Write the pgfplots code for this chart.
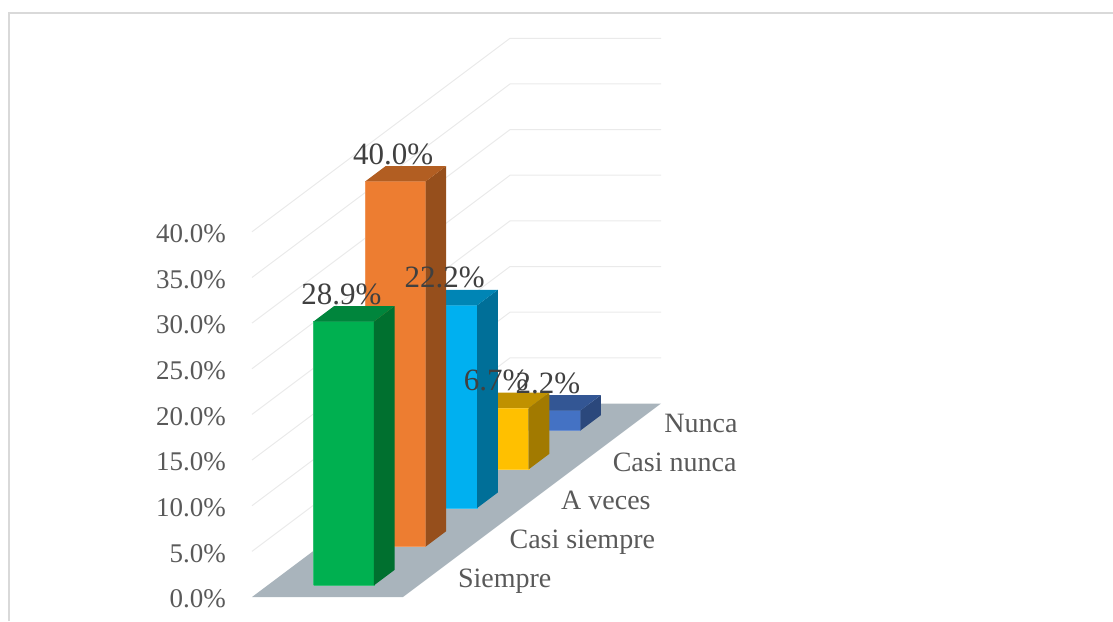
\documentclass[border=0pt]{standalone}
\usepackage{fontspec}
\setmainfont{Liberation Serif}
\usepackage{pgfplots}
\usepackage{pgfplotstable}
\pgfplotsset{compat=1.18}
\definecolor{gridc}{HTML}{EAEAEA}
\definecolor{floorc}{HTML}{A9B4BC}
\definecolor{framec}{HTML}{D9D9D9}
\definecolor{ticktxt}{HTML}{595959}
\definecolor{datatxt}{HTML}{404040}
\definecolor{greenF}{HTML}{00B050}\definecolor{greenS}{HTML}{00702F}\definecolor{greenT}{HTML}{00853C}
\definecolor{orangeF}{HTML}{ED7D31}\definecolor{orangeS}{HTML}{964F1C}\definecolor{orangeT}{HTML}{B25E22}
\definecolor{cyanF}{HTML}{00B0F0}\definecolor{cyanS}{HTML}{006F98}\definecolor{cyanT}{HTML}{0085B5}
\definecolor{yellowF}{HTML}{FFC000}\definecolor{yellowS}{HTML}{A27A00}\definecolor{yellowT}{HTML}{C09100}
\definecolor{blueF}{HTML}{4472C4}\definecolor{blueS}{HTML}{2B487C}\definecolor{blueT}{HTML}{335694}
% #1 value, #2 colour stem, #3 y front, #4 y back
\newcommand{\threedbar}[4]{%
  \addplot3[fill=#2F,draw=#2F!80!white,line width=0.4pt,no marks,forget plot] coordinates {(0.305,#3,0) (0.705,#3,0) (0.705,#3,#1) (0.305,#3,#1) (0.305,#3,0)};
  \addplot3[fill=#2S,draw=none,no marks,forget plot] coordinates {(0.705,#3,0) (0.705,#4,0) (0.705,#4,#1) (0.705,#3,#1) (0.705,#3,0)};
  \addplot3[fill=#2T,draw=none,no marks,forget plot] coordinates {(0.305,#3,#1) (0.705,#3,#1) (0.705,#4,#1) (0.305,#4,#1) (0.305,#3,#1)};
}
\newcommand{\gridl}[1]{\addplot3[gridc,line width=1pt,no marks,forget plot] coordinates {(0,0,#1) (0,5,#1) (1,5,#1)};}
\newcommand{\catlabel}[2]{\node[anchor=base west,inner sep=0pt,text=ticktxt,font=\fontsize{28}{30}\selectfont,xshift=29pt,yshift=-9.5pt] at (axis cs:1,#1,0) {#2};}
\begin{document}
\begin{tikzpicture}
\useasboundingbox (-252pt,-24pt) rectangle (861pt,597pt);
\draw[framec,line width=2pt] (-243pt,-24pt) -- (-243pt,584pt) -- (861pt,584pt);
\begin{axis}[
  at={(0pt,0pt)}, anchor=origin,
  x={(151pt,0pt)}, y={(51.6pt,38.7pt)}, z={(0pt,9.13pt)},
  xmin=0,xmax=1,ymin=0,ymax=5,zmin=0,zmax=40,
  clip=false,
  axis line style={draw=none},
  major tick style={draw=none},
  xtick=\empty, ytick=\empty,
  ztick={0,5,10,15,20,25,30,35,40},
  zticklabel pos=left,
  zticklabel={\pgfmathprintnumber[fixed,fixed zerofill,precision=1,assume math mode=true]{\tick}\%},
  z tick label style={anchor=east,inner sep=0pt,text=ticktxt,font=\fontsize{27}{30}\selectfont,xshift=-26pt,yshift=-2pt},
]
\gridl{5}\gridl{10}\gridl{15}\gridl{20}\gridl{25}\gridl{30}\gridl{35}\gridl{40}
\addplot3[fill=floorc,draw=none,no marks,forget plot] coordinates {(0,0,0) (1,0,0) (1,5,0) (0,5,0) (0,0,0)};
% bars, back to front
\threedbar{2.2}{blue}{4.3}{4.7}
\threedbar{6.7}{yellow}{3.3}{3.7}
\threedbar{22.2}{cyan}{2.3}{2.7}
\threedbar{40.0}{orange}{1.3}{1.7}
\threedbar{28.9}{green}{0.3}{0.7}
% data labels
\addplot3[only marks,mark=none,forget plot,
  point meta=z,
  nodes near coords={\pgfmathprintnumber[fixed,fixed zerofill,precision=1,assume math mode=true]{\pgfplotspointmeta}\%},
  every node near coord/.style={anchor=center,inner sep=0pt,text=datatxt,font=\fontsize{31}{34}\selectfont,yshift=27.5pt,xshift=-1.5pt},
] table[x=x,y=y,z=z] {
x y z
0.5 4.3 2.2
0.5 3.3 6.7
0.5 2.3 22.2
0.5 1.3 40.0
0.5 0.3 28.9
};
\catlabel{0.5}{Siempre}
\catlabel{1.5}{Casi siempre}
\catlabel{2.5}{A veces}
\catlabel{3.5}{Casi nunca}
\catlabel{4.5}{Nunca}
\end{axis}
\end{tikzpicture}
\end{document}
